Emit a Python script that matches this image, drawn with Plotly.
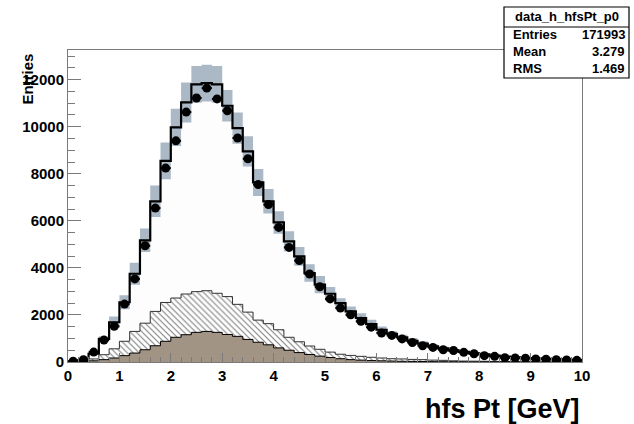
import numpy as np
import plotly.graph_objects as go

# ---------------- data (50 bins of 0.2 GeV, 0..10) ----------------
bin_width = 0.2
n_bins = 50

data_counts = [30, 100, 420, 930, 1520, 2460, 3530, 4940, 6540, 8240,
               9400, 10620, 11220, 11640, 11180, 10680, 9520, 8640, 7540, 6690,
               5720, 4870, 4310, 3740, 3200, 2680, 2290, 2010, 1730, 1480,
               1230, 1130, 980, 830, 690, 620, 520, 490, 410, 350,
               270, 240, 180, 170, 160, 130, 120, 100, 90, 70]

mc_total = [30, 80, 350, 980, 1690, 2540, 3750, 5170, 6830, 8550,
            9970, 11030, 11800, 11850, 11800, 10890, 9940, 8950, 7630, 6830,
            5930, 5130, 4490, 3780, 3290, 2900, 2500, 2150, 1870, 1610,
            1370, 1200, 1050, 900, 780, 660, 580, 490, 430, 370,
            320, 270, 230, 200, 170, 150, 130, 110, 100, 90]

mc_err = [5, 10, 40, 110, 240, 300, 470, 500, 670, 780,
          790, 850, 780, 780, 780, 670, 660, 640, 570, 520,
          480, 430, 400, 370, 370, 290, 210, 210, 200, 190,
          140, 110, 110, 120, 100, 80, 70, 60, 50, 45,
          40, 35, 30, 30, 25, 20, 20, 18, 15, 12]

# top of the hatched component (stacked on the brown one)
hatched_top = [10, 40, 130, 310, 560, 880, 1300, 1650, 2150, 2530,
               2720, 2890, 2990, 3030, 2920, 2780, 2450, 2120, 1780, 1630,
               1370, 1050, 860, 680, 540, 420, 330, 280, 240, 200,
               170, 140, 130, 110, 100, 80, 70, 50, 40, 35,
               30, 25, 20, 15, 12, 10, 10, 8, 6, 5]

brown_comp = [5, 20, 50, 100, 170, 270, 380, 520, 690, 880,
              1050, 1160, 1260, 1300, 1260, 1170, 1090, 960, 840, 730,
              600, 500, 400, 320, 250, 190, 140, 100, 80, 60,
              50, 40, 30, 25, 20, 15, 12, 10, 8, 6,
              5, 4, 3, 3, 2, 2, 1, 1, 1, 1]

stats_title = "data_h_hfsPt_p0"
stats_rows = [("Entries", "171993"), ("Mean", "3.279"), ("RMS", "1.469")]

edges = [round(i * bin_width, 2) for i in range(n_bins + 1)]
centers = [round((i + 0.5) * bin_width, 2) for i in range(n_bins)]


def step_y(vals):
    return list(vals) + [vals[-1]]


# ---------------- figure geometry ----------------
W, H = 634, 424
L, R, T, B = 68, 52, 50, 62
PW, PH = W - L - R, H - T - B


def px(xp):
    return (xp - L) / PW


def py(yp):
    return (H - B - yp) / PH


FONT = "Liberation Sans, Arial, Helvetica, sans-serif"
BROWN = "#a29484"
BAND = "#abb9c7"

fig = go.Figure()

# total MC (white fill)
fig.add_trace(go.Scatter(x=edges, y=step_y(mc_total), mode="lines",
                         line=dict(shape="hv", width=0, color="rgba(0,0,0,0)"),
                         fill="tozeroy", fillcolor="#fdfdfd", hoverinfo="skip"))

# MC uncertainty band
band_lo = [m - e for m, e in zip(mc_total, mc_err)]
band_hi = [m + e for m, e in zip(mc_total, mc_err)]
fig.add_trace(go.Scatter(x=edges, y=step_y(band_lo), mode="lines",
                         line=dict(shape="hv", width=0, color="rgba(0,0,0,0)"),
                         hoverinfo="skip"))
fig.add_trace(go.Scatter(x=edges, y=step_y(band_hi), mode="lines",
                         line=dict(shape="hv", width=0, color="rgba(0,0,0,0)"),
                         fill="tonexty", fillcolor=BAND, hoverinfo="skip"))

# MC total outline
fig.add_trace(go.Scatter(x=edges, y=step_y(mc_total), mode="lines",
                         line=dict(shape="hv", width=2.2, color="black"),
                         hoverinfo="skip"))

# hatched component
fig.add_trace(go.Scatter(x=edges, y=step_y(hatched_top), mode="lines",
                         line=dict(shape="hv", width=1, color="#333333"),
                         fill="tozeroy", fillcolor="white",
                         fillpattern=dict(shape="\\", fgcolor="black", bgcolor="white",
                                          size=4.2, solidity=0.26),
                         hoverinfo="skip"))

# brown component
fig.add_trace(go.Scatter(x=edges, y=step_y(brown_comp), mode="lines",
                         line=dict(shape="hv", width=1, color="black"),
                         fill="tozeroy", fillcolor=BROWN, hoverinfo="skip"))

# data points
fig.add_trace(go.Scatter(x=centers, y=data_counts, mode="markers",
                         marker=dict(size=9, color="black", symbol="circle"),
                         error_x=dict(type="constant", value=bin_width / 2, width=0,
                                      thickness=2, color="black"),
                         error_y=dict(type="data", array=np.sqrt(data_counts), width=0,
                                      thickness=2, color="black"),
                         hoverinfo="skip"))

fig.update_layout(
    width=W, height=H,
    margin=dict(l=L, r=R, t=T, b=B),
    paper_bgcolor="white", plot_bgcolor="white",
    showlegend=False,
    font=dict(family=FONT, color="black"),
    xaxis=dict(range=[0, 10], dtick=1, tick0=0, showgrid=False, zeroline=False,
               showline=True, mirror=True, linecolor="#7a7a7a", linewidth=1,
               ticks="inside", ticklen=9, tickcolor="#7a7a7a",
               minor=dict(ticks="inside", ticklen=5, dtick=0.2, tickcolor="#7a7a7a"),
               tickfont=dict(family=FONT, size=15, weight="bold", color="black")),
    yaxis=dict(range=[0, 13260], dtick=2000, tick0=0, tickformat="d",
               showgrid=False, zeroline=False,
               showline=True, mirror=True, linecolor="#7a7a7a", linewidth=1,
               ticks="inside", ticklen=13, tickcolor="#7a7a7a",
               minor=dict(ticks="inside", ticklen=7, dtick=500, tickcolor="#7a7a7a"),
               tickfont=dict(family=FONT, size=15, weight="bold", color="black")),
)

# axis titles
fig.add_annotation(text="Entries", xref="paper", yref="paper",
                   x=px(27), y=py(52), xanchor="center", yanchor="top",
                   textangle=-90, showarrow=False,
                   font=dict(family=FONT, size=15, weight="bold", color="black"))
fig.add_annotation(text="hfs Pt [GeV]", xref="paper", yref="paper",
                   x=px(582), y=py(409), xanchor="right", yanchor="middle",
                   showarrow=False,
                   font=dict(family=FONT, size=27, weight="bold", color="black"))

# stats box
bx0, bx1, by0, by1 = 504, 629, 7, 78
fig.add_shape(type="rect", xref="paper", yref="paper",
              x0=px(bx0), x1=px(bx1), y0=py(by1), y1=py(by0),
              line=dict(color="black", width=1.2), fillcolor="white", layer="above")
fig.add_shape(type="line", xref="paper", yref="paper",
              x0=px(bx0), x1=px(bx1), y0=py(27), y1=py(27),
              line=dict(color="black", width=1), layer="above")
fig.add_annotation(text=stats_title, xref="paper", yref="paper",
                   x=px((bx0 + bx1) / 2), y=py(17), xanchor="center", yanchor="middle",
                   showarrow=False,
                   font=dict(family=FONT, size=13, weight="bold", color="black"))
row_y = [34.5, 51.5, 68.5]
for (lab, val), yy in zip(stats_rows, row_y):
    fig.add_annotation(text=lab, xref="paper", yref="paper",
                       x=px(511), y=py(yy), xanchor="left", yanchor="middle",
                       showarrow=False,
                       font=dict(family=FONT, size=13, weight="bold", color="black"))
    fig.add_annotation(text=val, xref="paper", yref="paper",
                       x=px(627), y=py(yy), xanchor="right", yanchor="middle",
                       showarrow=False,
                       font=dict(family=FONT, size=13, weight="bold", color="black"))

fig.write_html("out.html")
